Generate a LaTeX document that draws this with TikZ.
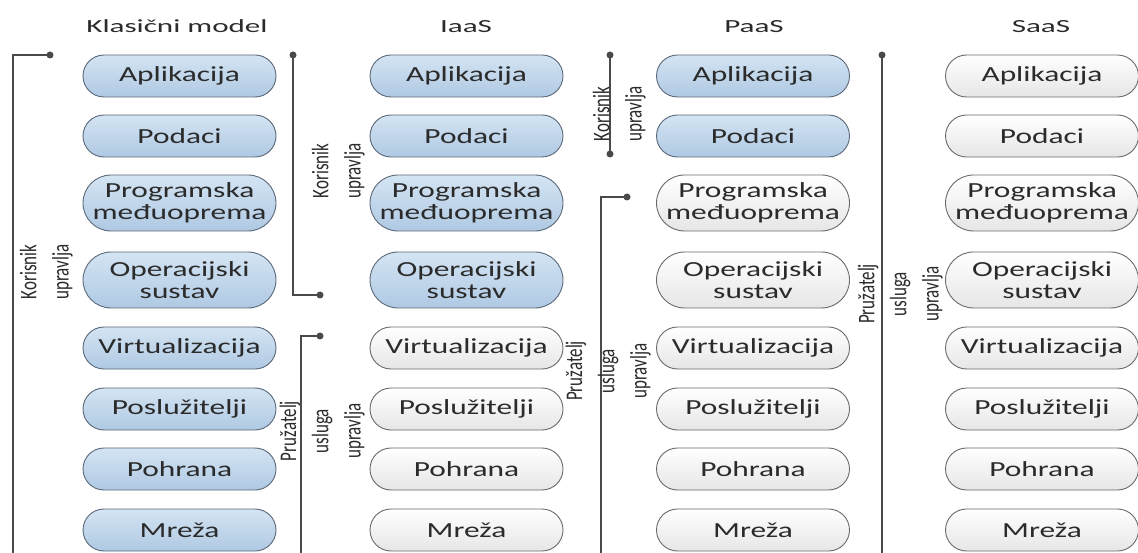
\documentclass[tikz,border=0pt]{standalone}
\usepackage{fontspec}
\setmainfont{Carlito}
\newfontfamily\pillfont[FakeStretch=1.46]{Carlito}
\newfontfamily\titlefont[FakeStretch=1.68]{Carlito}
\usepackage{graphicx}
\usetikzlibrary{shapes.misc}
\definecolor{txt}{HTML}{2B2B2B}
\definecolor{bluetop}{HTML}{D4E4F3}
\definecolor{bluebot}{HTML}{AFC9E3}
\definecolor{blueline}{HTML}{5A6878}
\definecolor{greytop}{HTML}{FFFFFF}
\definecolor{greybot}{HTML}{E6E6E6}
\definecolor{greyline}{HTML}{6A6A6A}
\definecolor{connc}{HTML}{4A4A4A}
\newcommand{\sidetext}[1]{\scalebox{1}[1.4]{\begin{tabular}{@{}c@{}}#1\end{tabular}}}
\begin{document}
\begin{tikzpicture}[x=1pt,y=-1pt,
  pill/.style={rounded rectangle, minimum width=193pt, minimum height=42pt, inner sep=0pt,
    draw, line width=0.9pt, font=\pillfont\fontsize{21.5}{22}\selectfont, text=txt, align=center},
  pillB/.style={pill, top color=bluetop, bottom color=bluebot, draw=blueline},
  pillW/.style={pill, top color=greytop, bottom color=greybot, draw=greyline},
  tall/.style={minimum height=56pt},
  coltitle/.style={font=\titlefont\fontsize{18.5}{20}\selectfont, text=txt, anchor=base},
  sidelab/.style={rotate=90, font=\fontsize{17}{23}\selectfont, text=txt, inner sep=0pt},
  connline/.style={draw=connc, line width=1.6pt},
  dotnode/.style={circle, fill=connc, inner sep=0pt, minimum size=7pt}]
\fill[white] (0,0) rectangle (1138,553);
\useasboundingbox (0,0) rectangle (1138,553);

% titles
\node[coltitle] (t1) at (177,32.3) {Klasični model};
\node[coltitle] (t2) at (466,32.3) {IaaS};
\node[coltitle] (t3) at (754,32.3) {PaaS};
\node[coltitle] (t4) at (1041,32.3) {SaaS};

% column 1
\node[pillB] (a1) at (179.5,76) {Aplikacija};
\node[pillB] (a2) at (179.5,136) {Podaci};
\node[pillB,tall] (a3) at (179.5,203) {Programska\\međuoprema};
\node[pillB,tall] (a4) at (179.5,280) {Operacijski\\sustav};
\node[pillB] (a5) at (179.5,348) {Virtualizacija};
\node[pillB] (a6) at (179.5,409) {Poslužitelji};
\node[pillB] (a7) at (179.5,469) {Pohrana};
\node[pillB] (a8) at (179.5,530) {Mreža};

% column 2
\node[pillB] (b1) at (466.5,76) {Aplikacija};
\node[pillB] (b2) at (466.5,136) {Podaci};
\node[pillB,tall] (b3) at (466.5,203) {Programska\\međuoprema};
\node[pillB,tall] (b4) at (466.5,280) {Operacijski\\sustav};
\node[pillW] (b5) at (466.5,348) {Virtualizacija};
\node[pillW] (b6) at (466.5,409) {Poslužitelji};
\node[pillW] (b7) at (466.5,469) {Pohrana};
\node[pillW] (b8) at (466.5,530) {Mreža};

% column 3
\node[pillB] (c1) at (753,76) {Aplikacija};
\node[pillB] (c2) at (753,136) {Podaci};
\node[pillW,tall] (c3) at (753,203) {Programska\\međuoprema};
\node[pillW,tall] (c4) at (753,280) {Operacijski\\sustav};
\node[pillW] (c5) at (753,348) {Virtualizacija};
\node[pillW] (c6) at (753,409) {Poslužitelji};
\node[pillW] (c7) at (753,469) {Pohrana};
\node[pillW] (c8) at (753,530) {Mreža};

% column 4
\node[pillW] (d1) at (1042,76) {Aplikacija};
\node[pillW] (d2) at (1042,136) {Podaci};
\node[pillW,tall] (d3) at (1042,203) {Programska\\međuoprema};
\node[pillW,tall] (d4) at (1042,280) {Operacijski\\sustav};
\node[pillW] (d5) at (1042,348) {Virtualizacija};
\node[pillW] (d6) at (1042,409) {Poslužitelji};
\node[pillW] (d7) at (1042,469) {Pohrana};
\node[pillW] (d8) at (1042,530) {Mreža};

% bracket end points
\coordinate (e1) at (13,553);
\coordinate (e3) at (301,553);
\coordinate (e5) at (601,553);
\coordinate (e6) at (882,553);

% brackets
\draw[connline] (50,55) coordinate (p1) -| (e1);
\draw[connline] (293,55) coordinate (p2) |- (320,295) coordinate (q2);
\draw[connline] (320,336) coordinate (p3) -| (e3);
\draw[connline] (610,55) coordinate (p4) -- (610,154) coordinate (q4);
\draw[connline] (627,197) coordinate (p5) -| (e5);
\draw[connline] (882,55) coordinate (p6) -- (e6);

\foreach \c in {p1,p2,q2,p3,p4,q4,p5,p6}
  \node[dotnode] at (\c) {};

% side labels
\node[sidelab] (l1) at (46,272) {\sidetext{Korisnik\\upravlja}};
\node[sidelab] (l2) at (338,171) {\sidetext{Korisnik\\upravlja}};
\node[sidelab] (l3) at (322,431) {\sidetext{Pružatelj\\usluga\\upravlja}};
\node[sidelab] (l4) at (619,114) {\sidetext{Korisnik\\upravlja}};
\node[sidelab] (l5) at (608,371) {\sidetext{Pružatelj\\usluga\\upravlja}};
\node[sidelab] (l6) at (900,294) {\sidetext{Pružatelj\\usluga\\upravlja}};
\end{tikzpicture}
\end{document}
